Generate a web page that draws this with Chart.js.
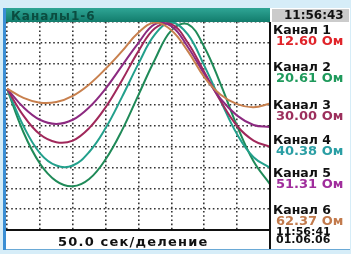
<!DOCTYPE html>
<html>
<head>
<meta charset="utf-8">
<script src="https://cdn.jsdelivr.net/npm/chart.js@4.4.0/dist/chart.umd.min.js"></script>
<style>
  body { margin:0; width:351px; height:254px; background:#d6edf8; position:relative; overflow:hidden;
         font-family:"DejaVu Sans", sans-serif; font-weight:bold; }
  .t { position:absolute; white-space:nowrap; line-height:12px; }
</style>
</head>
<body>
<div style="position:absolute;left:3px;top:8px;width:3px;height:242px;background:#3a8ed4"></div>
<div style="position:absolute;left:6px;top:8px;width:344px;height:241px;background:#fff"></div>
<canvas id="myChart" width="351" height="254" style="position:absolute;left:0;top:0"></canvas>
<div id="overlay"></div>

<script>
// time axis, seconds (8 divisions of 50 sec)
var seconds = [0, 25, 50, 75, 100, 125, 150, 175, 200, 225, 250, 275, 300, 325, 350, 375, 400];

var channelNames = ['Канал 1', 'Канал 2', 'Канал 3', 'Канал 4', 'Канал 5', 'Канал 6'];
var readings = ['12.60', '20.61', '30.00', '40.38', '51.31', '62.37'];
var unit = 'Ом';

// traces (Ohm)
var ch6 = [68, 63.5, 61.2, 61.5, 64.5, 70, 77.5, 86, 95, 99.7, 96, 86, 73.5, 65, 60.5, 59, 60.8];
var ch5 = [68, 59, 53, 51, 53, 59, 68, 79, 90, 99, 98, 88, 75, 63, 55, 50.5, 49.5];
var ch3 = [68, 55, 46, 42.2, 43, 49, 59, 72, 86, 97, 99, 90, 76, 62, 50, 43, 40];
var ch4 = [68, 50, 37, 31, 31, 37.5, 49, 64, 80, 94, 99.8, 94, 79, 62, 46, 35, 30];
var ch2 = [68, 47, 32, 23.5, 21, 24.5, 34, 48, 65, 82, 96, 99, 88, 70, 50, 33, 22];

var headerText = 'Каналы1-6';
var clockNow = '11:56:43';
var clockEnd = '11:56:41';
var dateText = '01.06.06';
var scaleText = '50.0 сек/деление';

var labelColors = ['#e0242a', '#1f9a5c', '#9c2f5c', '#2a9ea4', '#a02d9c', '#c27a4c'];

function pts(arr) {
    return arr.map(function (v, i) { return { x: seconds[i], y: v }; });
}

function ds(name, arr, color) {
    return {
        label: name,
        data: pts(arr),
        borderColor: color,
        borderWidth: 2,
        pointRadius: 0,
        tension: 0.4,
        fill: false
    };
}

var chart = new Chart('myChart', {
    type: 'line',
    data: {
        datasets: [
            ds(channelNames[5], ch6, '#c8804e'),
            ds(channelNames[4], ch5, '#8c2a80'),
            ds(channelNames[2], ch3, '#a0285a'),
            ds(channelNames[3], ch4, '#22a08c'),
            ds(channelNames[1], ch2, '#1f8a58')
        ]
    },
    options: {
        responsive: false,
        animation: false,
        layout: { padding: { left: 7, top: 22, right: 81, bottom: 24 } },
        plugins: { legend: { display: false }, tooltip: { enabled: false } },
        scales: {
            x: {
                type: 'linear', min: 0, max: 400,
                ticks: { display: false, stepSize: 50 },
                grid: { color: '#333', lineWidth: 1.6, drawTicks: false },
                border: { display: false, dash: [1.6, 2.6] }
            },
            y: {
                min: 0, max: 100,
                ticks: { display: false, stepSize: 10 },
                grid: { color: '#333', lineWidth: 1.6, drawTicks: false },
                border: { display: false, dash: [1.6, 2.6] }
            }
        }
    }
});

// panel texts / frame
var ov = document.getElementById('overlay');
function box(css) {
    var d = document.createElement('div');
    d.style.cssText = 'position:absolute;' + css;
    ov.appendChild(d);
    return d;
}
function txt(s, left, top, size, color) {
    var d = box('left:' + left + 'px;top:' + top + 'px;font-size:' + size + 'px;color:' + color + ';');
    d.className = 't';
    d.textContent = s;
    return d;
}

box('left:6px;top:8px;width:264px;height:14px;background:linear-gradient(#2fa595,#127c6c);');
txt(headerText, 11, 10, 12, '#0b4c40').style.letterSpacing = '1px';
box('left:272px;top:9px;width:77px;height:13px;background:#cbcbcb;');
txt(clockNow, 284, 9, 12, '#111');

box('left:269px;top:22px;width:1.5px;height:228px;background:#111;');
box('left:6px;top:229px;width:264px;height:1.5px;background:#111;');
box('left:6px;top:249px;width:344px;height:1px;background:#6aa9d6;');

var labelTops = [24, 61, 99, 134, 167, 204];
for (var i = 0; i < channelNames.length; i++) {
    txt(channelNames[i], 273, labelTops[i], 12.5, '#111');
    txt(readings[i] + ' ' + unit, 276, labelTops[i] + 11, 13, labelColors[i]);
}
txt(clockEnd, 276, 227, 11, '#111').style.lineHeight = '9px';
txt(dateText, 276, 235, 11, '#111').style.lineHeight = '9px';
txt(scaleText, 58, 236, 13, '#111').style.letterSpacing = '1.2px';
</script>
</body>
</html>
